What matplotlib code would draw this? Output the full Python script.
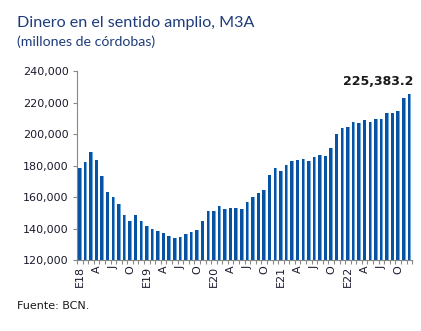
import numpy as np
import matplotlib
matplotlib.use('Agg')
import matplotlib.pyplot as plt

# M3A mensual, ene-2018 a dic-2022 (millones de cordobas)
valores = [178.7, 182.3, 188.6, 183.8, 173.6, 163.3, 160.3, 155.7, 148.3, 145.1, 148.7, 145.1,
           141.3, 139.9, 138.2, 136.9, 135.2, 133.9, 134.8, 136.5, 137.5, 138.8, 144.9, 151.0,
           151.0, 154.0, 152.7, 153.2, 153.2, 152.5, 156.7, 160.3, 162.4, 164.8, 174.3, 178.7,
           176.6, 180.6, 182.9, 183.6, 184.4, 182.9, 185.7, 186.7, 186.3, 191.4, 200.0, 203.6,
           204.3, 207.9, 207.2, 208.7, 207.6, 209.3, 209.8, 213.6, 213.6, 215.0, 223.1, 225.3832]
valores = np.array(valores) * 1000

anios = ['18', '19', '20', '21', '22']
meses_tick = ['E', 'A', 'J', 'O']
etiquetas = []
for a in anios:
    for m in meses_tick:
        etiquetas.append('E' + a if m == 'E' else m)

ultimo = '225,383.2'

x = np.arange(len(valores))

fig = plt.figure(figsize=(4.21, 3.31), dpi=100)
ax = fig.add_axes([0.183, 0.2145, 0.796, 0.5705])

# barra principal y brillo claro a la derecha
ax.bar(x - 0.06, valores - 120000, bottom=120000, width=0.5, color='#0752A2', linewidth=0)
ax.bar(x + 0.24, valores - 120000, bottom=120000, width=0.14, color='#6FA6DC', linewidth=0)

ax.set_xlim(-0.5, len(valores) - 0.5)
ax.set_ylim(120000, 240000)
ax.set_yticks(np.arange(120000, 240001, 20000))
ax.set_yticklabels(['{:,.0f}'.format(v) for v in np.arange(120000, 240001, 20000)],
                   fontsize=8, color='#1a1a2e')
ax.set_xticks(np.arange(0, len(valores), 3))
ax.set_xticklabels(etiquetas, rotation=90, fontsize=8, color='#1a1a2e')
ax.set_xticks(np.arange(-0.5, len(valores), 1), minor=True)
ax.tick_params(axis='x', which='major', length=0, pad=4)
ax.tick_params(axis='x', which='minor', length=3, color='#888888', width=0.8)
ax.tick_params(axis='y', length=3, color='#888888', width=0.8, pad=3)

for s in ['top', 'right']:
    ax.spines[s].set_visible(False)
ax.spines['left'].set_color('#888888')
ax.spines['bottom'].set_color('#888888')

ax.text(len(valores) - 0.3, valores[-1] + 4000, ultimo, ha='right', va='bottom',
        fontsize=9, fontweight='bold', color='#1a1a1a')

fig.text(0.04, 0.918, 'Dinero en el sentido amplio, M3A', fontsize=11.6,
         family='Lato', color='#1F3C7A', ha='left', va='baseline')
fig.text(0.04, 0.862, '(millones de córdobas)', fontsize=10.2,
         family='Lato', color='#1F3C7A', ha='left', va='baseline')
fig.text(0.04, 0.067, 'Fuente: BCN.', fontsize=8, color='#1a1a1a', ha='left', va='baseline')

fig.savefig('out.png', dpi=100)
